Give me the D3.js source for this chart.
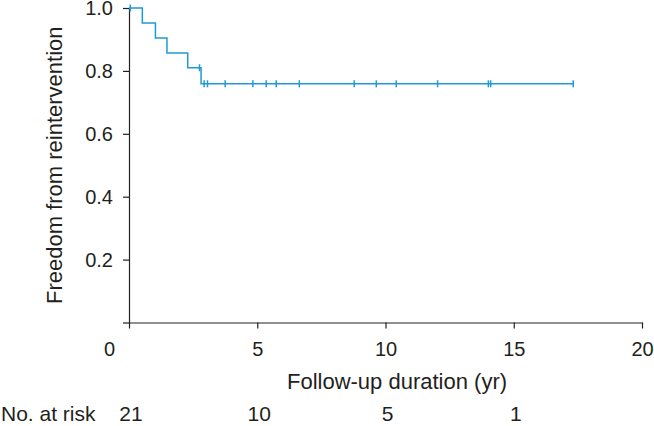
<!DOCTYPE html>
<meta charset="utf-8">
<style>
  body { margin: 0; background: #fff; }
  svg { font-family: "Liberation Sans", Arial, Helvetica, sans-serif; }
  .axis path, .axis line { stroke: #231f20; stroke-width: 1.2; }
  .axis text { fill: #231f20; font-size: 20px; font-family: "Liberation Sans", Arial, sans-serif; }
  .km { fill: none; stroke: #1f9ad6; stroke-width: 1.5; }
  .cens { stroke: #1f9ad6; stroke-width: 1.5; }
  .lbl { fill: #231f20; }
</style>
<svg width="654" height="426"></svg>
<script src="https://cdnjs.cloudflare.com/ajax/libs/d3/7.8.5/d3.min.js"></script>
<script>

// Kaplan-Meier steps
var eventTimes = [0, 0.52, 1.03, 1.48, 2.29, 2.81],
    survival = [1.0, 0.952, 0.905, 0.857, 0.810, 0.759],
    censorTimes = [0.05, 2.75, 2.93, 3.06, 3.75, 4.83, 5.35, 5.74, 6.64,
                   8.78, 9.64, 10.42, 12.03, 14.01, 14.10, 17.32],
    xTicks = [0, 5, 10, 15, 20],
    yTicks = [0, 0.2, 0.4, 0.6, 0.8, 1.0],
    riskTimes = [0, 5, 10, 15],
    atRisk = [21, 10, 5, 1];

var svg = d3.select("svg");

var x = d3.scaleLinear().domain([0, 20]).range([129, 642]);
var y = d3.scaleLinear().domain([0, 1]).range([322.5, 8]);

function survAt(t) {
  var s = survival[0];
  for (var i = 0; i < eventTimes.length; i++) {
    if (eventTimes[i] <= t) s = survival[i];
  }
  return s;
}

// x axis
var gx = svg.append("g")
    .attr("class", "axis")
    .attr("transform", "translate(0," + y(0) + ")")
    .call(d3.axisBottom(x).tickValues(xTicks).tickSize(6).tickSizeOuter(0).tickPadding(13));
gx.selectAll(".tick text").filter(function(d) { return d === 0; })
    .attr("dx", -20);

// y axis
var gy = svg.append("g")
    .attr("class", "axis")
    .attr("transform", "translate(" + x(0) + ",0)")
    .call(d3.axisLeft(y).tickValues(yTicks).tickSize(6).tickSizeOuter(0).tickPadding(10)
      .tickFormat(function(d) { return d === 0 ? "" : d3.format(".1f")(d); }));

// survival curve
var pts = eventTimes.map(function(t, i) { return [t, survival[i]]; });
var tEnd = d3.max(censorTimes);
pts.push([tEnd, survAt(tEnd)]);

var line = d3.line()
    .x(function(d) { return x(d[0]); })
    .y(function(d) { return y(d[1]); })
    .curve(d3.curveStepAfter);

svg.append("path")
    .datum(pts)
    .attr("class", "km")
    .attr("d", line);

// censor marks
svg.selectAll(".cens")
    .data(censorTimes)
  .enter().append("line")
    .attr("class", "cens")
    .attr("x1", function(d) { return x(d); })
    .attr("x2", function(d) { return x(d); })
    .attr("y1", function(d) { return y(survAt(d)) - 3.5; })
    .attr("y2", function(d) { return y(survAt(d)) + 3.5; });

// titles
svg.append("text")
    .attr("class", "lbl")
    .attr("transform", "translate(62," + ((y(0) + y(1)) / 2) + ") rotate(-90)")
    .attr("text-anchor", "middle")
    .style("font-size", "22px")
    .text("Freedom from reintervention");

svg.append("text")
    .attr("class", "lbl")
    .attr("x", 397)
    .attr("y", 389)
    .attr("text-anchor", "middle")
    .style("font-size", "22px")
    .text("Follow-up duration (yr)");

// number at risk
svg.append("text")
    .attr("class", "lbl")
    .attr("x", 1)
    .attr("y", 421)
    .style("font-size", "21px")
    .text("No. at risk");

svg.selectAll(".risk")
    .data(atRisk)
  .enter().append("text")
    .attr("class", "lbl risk")
    .attr("x", function(d, i) { return x(riskTimes[i]) + 2; })
    .attr("y", 421)
    .attr("text-anchor", "middle")
    .style("font-size", "21px")
    .text(function(d) { return d; });

</script>
